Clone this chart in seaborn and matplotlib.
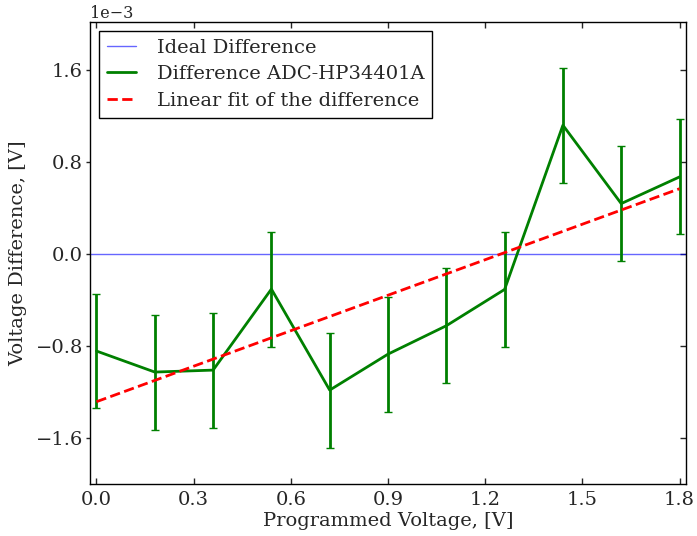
import numpy as np
import pandas as pd
import matplotlib
matplotlib.use("Agg")
import matplotlib.pyplot as plt
import seaborn as sns

# Data
voltage = [0.0, 0.18, 0.36, 0.54, 0.72, 0.90, 1.08, 1.26, 1.44, 1.62, 1.80]
difference = [-0.843e-3, -1.026e-3, -1.009e-3, -0.304e-3, -1.183e-3, -0.870e-3,
              -0.623e-3, -0.307e-3, 1.122e-3, 0.440e-3, 0.672e-3]
error = [0.5e-3] * 11
xticks = [0.0, 0.3, 0.6, 0.9, 1.2, 1.5, 1.8]
yticks = [-1.6e-3, -0.8e-3, 0.0, 0.8e-3, 1.6e-3]

sns.set_style("ticks")
plt.rcParams["font.family"] = ["DejaVu Serif"]
plt.rcParams["font.size"] = 14
plt.rcParams["mathtext.fontset"] = "dejavuserif"

df = pd.DataFrame({"V": voltage, "D": difference})
coef = np.polyfit(voltage, difference, 1)
fit_df = pd.DataFrame({"V": voltage, "F": np.polyval(coef, voltage)})

fig = plt.figure(figsize=(6.97, 5.36), dpi=100)
ax = fig.add_axes([90 / 697, 1 - 484 / 536, (686 - 90) / 697, (484 - 22) / 536])

ax.axhline(0.0, color="blue", lw=1, alpha=0.6, label="Ideal Difference")
sns.lineplot(data=df, x="V", y="D", ax=ax, color="green", lw=2,
             label="Difference ADC-HP34401A")
ax.errorbar(voltage, difference, yerr=error, fmt="none", ecolor="green",
            elinewidth=2, capsize=3, capthick=1)
sns.lineplot(data=fit_df, x="V", y="F", ax=ax, color="red", lw=2,
             linestyle="--", label="Linear fit of the difference")

ax.set_xlim(-0.02, 1.82)
ax.set_ylim(-2.0e-3, 2.02e-3)
ax.set_xticks(xticks)
ax.set_yticks(yticks)
ax.xaxis.set_major_formatter(matplotlib.ticker.FormatStrFormatter("%.1f"))
ax.ticklabel_format(axis="y", style="sci", scilimits=(-3, 3))
ax.tick_params(axis="x", direction="in", top=True, length=4, width=1,
               labelsize=14, pad=5)
ax.tick_params(axis="y", direction="in", right=True, length=4, width=1,
               labelsize=14, pad=5)
for t in ax.yaxis.get_major_ticks():
    t.tick1line.set_marker(matplotlib.lines.TICKLEFT)
    t.tick1line.set_markersize(3)
ax.yaxis.get_offset_text().set_fontsize(11.5)
for s in ax.spines.values():
    s.set_color("black")
    s.set_linewidth(1)

ax.set_xlabel("Programmed Voltage, [V]", fontsize=14, labelpad=2)
ax.set_ylabel("Voltage Difference, [V]", fontsize=14, labelpad=6)

leg = ax.legend(loc="upper left", fancybox=False, framealpha=1,
                edgecolor="black", fontsize=14, borderaxespad=0.45,
                handlelength=1.5, handletextpad=1.1, labelspacing=0.45,
                borderpad=0.4)
leg.get_frame().set_linewidth(1)

fig.savefig("out.png", dpi=100)
